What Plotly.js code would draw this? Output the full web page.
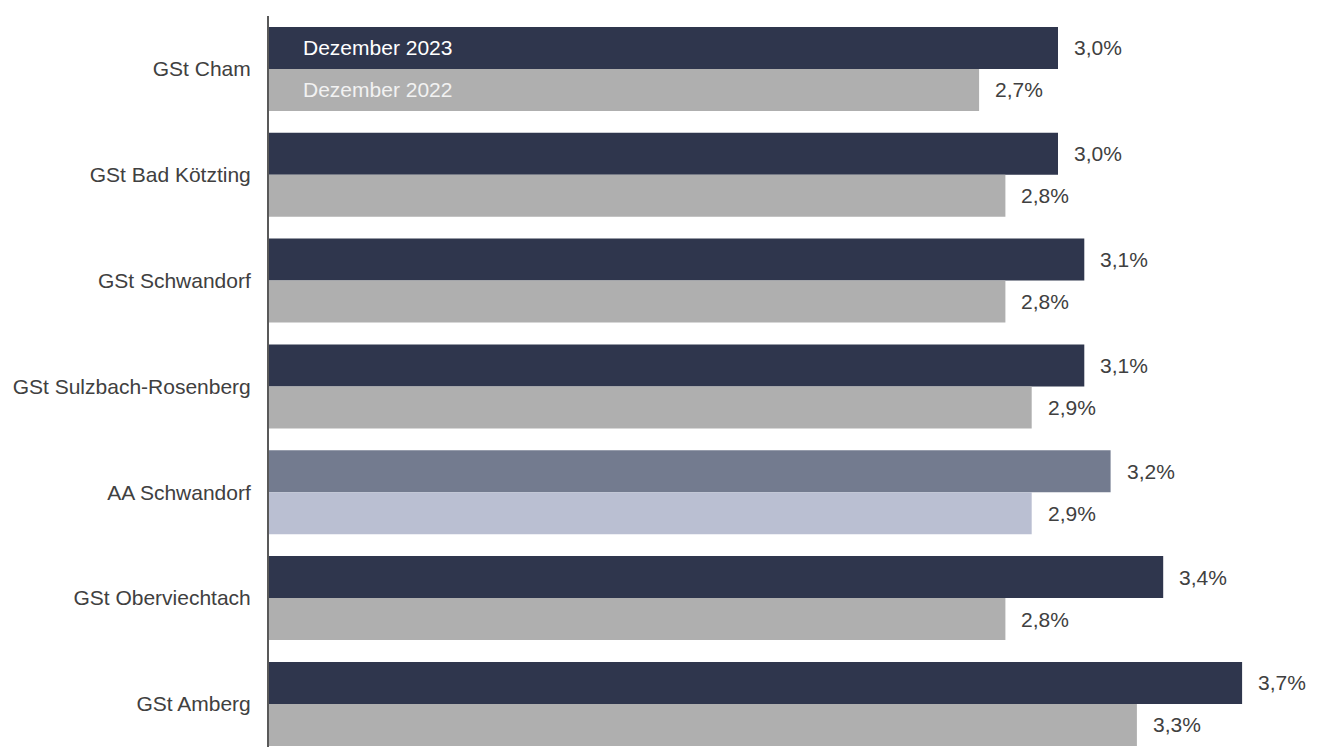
<!DOCTYPE html>
<html>
<head>
<meta charset="utf-8">
<script src="https://cdn.plot.ly/plotly-3.0.1.min.js"></script>
<style>html,body{margin:0;padding:0;overflow:hidden;background:#fff}#chart{width:1321px;height:747px}</style>
</head>
<body>
<div id="chart"></div>
<script>
const categories = ["GSt Cham","GSt Bad Kötzting","GSt Schwandorf","GSt Sulzbach-Rosenberg","AA Schwandorf","GSt Oberviechtach","GSt Amberg"];
const values2023 = [3.0,3.0,3.1,3.1,3.2,3.4,3.7];
const values2022 = [2.7,2.8,2.8,2.9,2.9,2.8,3.3];
const seriesNames = ["Dezember 2023","Dezember 2022"];
const highlight = "AA Schwandorf";

const col23 = categories.map(c => c === highlight ? "#737b8f" : "#2f364d");
const col22 = categories.map(c => c === highlight ? "#babfd2" : "#afafaf");
const fmt = v => v.toFixed(1).replace(".", ",") + "%";

const traces = [
  {type:"bar", orientation:"h", name:seriesNames[0], y:categories, x:values2023, marker:{color:col23}, hoverinfo:"x+y"},
  {type:"bar", orientation:"h", name:seriesNames[1], y:categories, x:values2022, marker:{color:col22}, hoverinfo:"x+y"}
];

const annotations = [];
const lblFont = {family:"Liberation Sans, Arial, sans-serif", size:21, color:"#404040"};
categories.forEach((c,i) => {
  annotations.push({x:values2023[i], y:c, xref:"x", yref:"y", text:fmt(values2023[i]), showarrow:false, xanchor:"left", yanchor:"middle", xshift:14, yshift:21, font:lblFont});
  annotations.push({x:values2022[i], y:c, xref:"x", yref:"y", text:fmt(values2022[i]), showarrow:false, xanchor:"left", yanchor:"middle", xshift:14, yshift:-21, font:lblFont});
});
annotations.push({x:0, y:categories[0], xref:"paper", yref:"y", text:seriesNames[0], showarrow:false, xanchor:"left", yanchor:"middle", xshift:32, yshift:21, font:{family:"Liberation Sans, Arial, sans-serif", size:21, color:"#ffffff"}});
annotations.push({x:0, y:categories[0], xref:"paper", yref:"y", text:seriesNames[1], showarrow:false, xanchor:"left", yanchor:"middle", xshift:32, yshift:-21, font:{family:"Liberation Sans, Arial, sans-serif", size:21, color:"#f2f2f2"}});

const layout = {
  width:1321, height:747,
  margin:{l:269, r:0, t:16, b:0, pad:0},
  paper_bgcolor:"#ffffff", plot_bgcolor:"#ffffff",
  showlegend:false,
  barmode:"group", bargap:0.206, bargroupgap:0,
  font:{family:"Liberation Sans, Arial, sans-serif", size:21, color:"#404040"},
  xaxis:{range:[0,4], visible:false, showgrid:false, zeroline:false, fixedrange:true},
  yaxis:{type:"category", autorange:false, range:[6.407,-0.5], showgrid:false, zeroline:false,
         showline:true, linecolor:"#595959", linewidth:2, ticks:"", ticklabelstandoff:12,
         tickfont:{family:"Liberation Sans, Arial, sans-serif", size:21, color:"#404040"}, fixedrange:true},
  annotations:annotations
};

Plotly.newPlot("chart", traces, layout, {displayModeBar:false, staticPlot:true});
</script>
</body>
</html>
